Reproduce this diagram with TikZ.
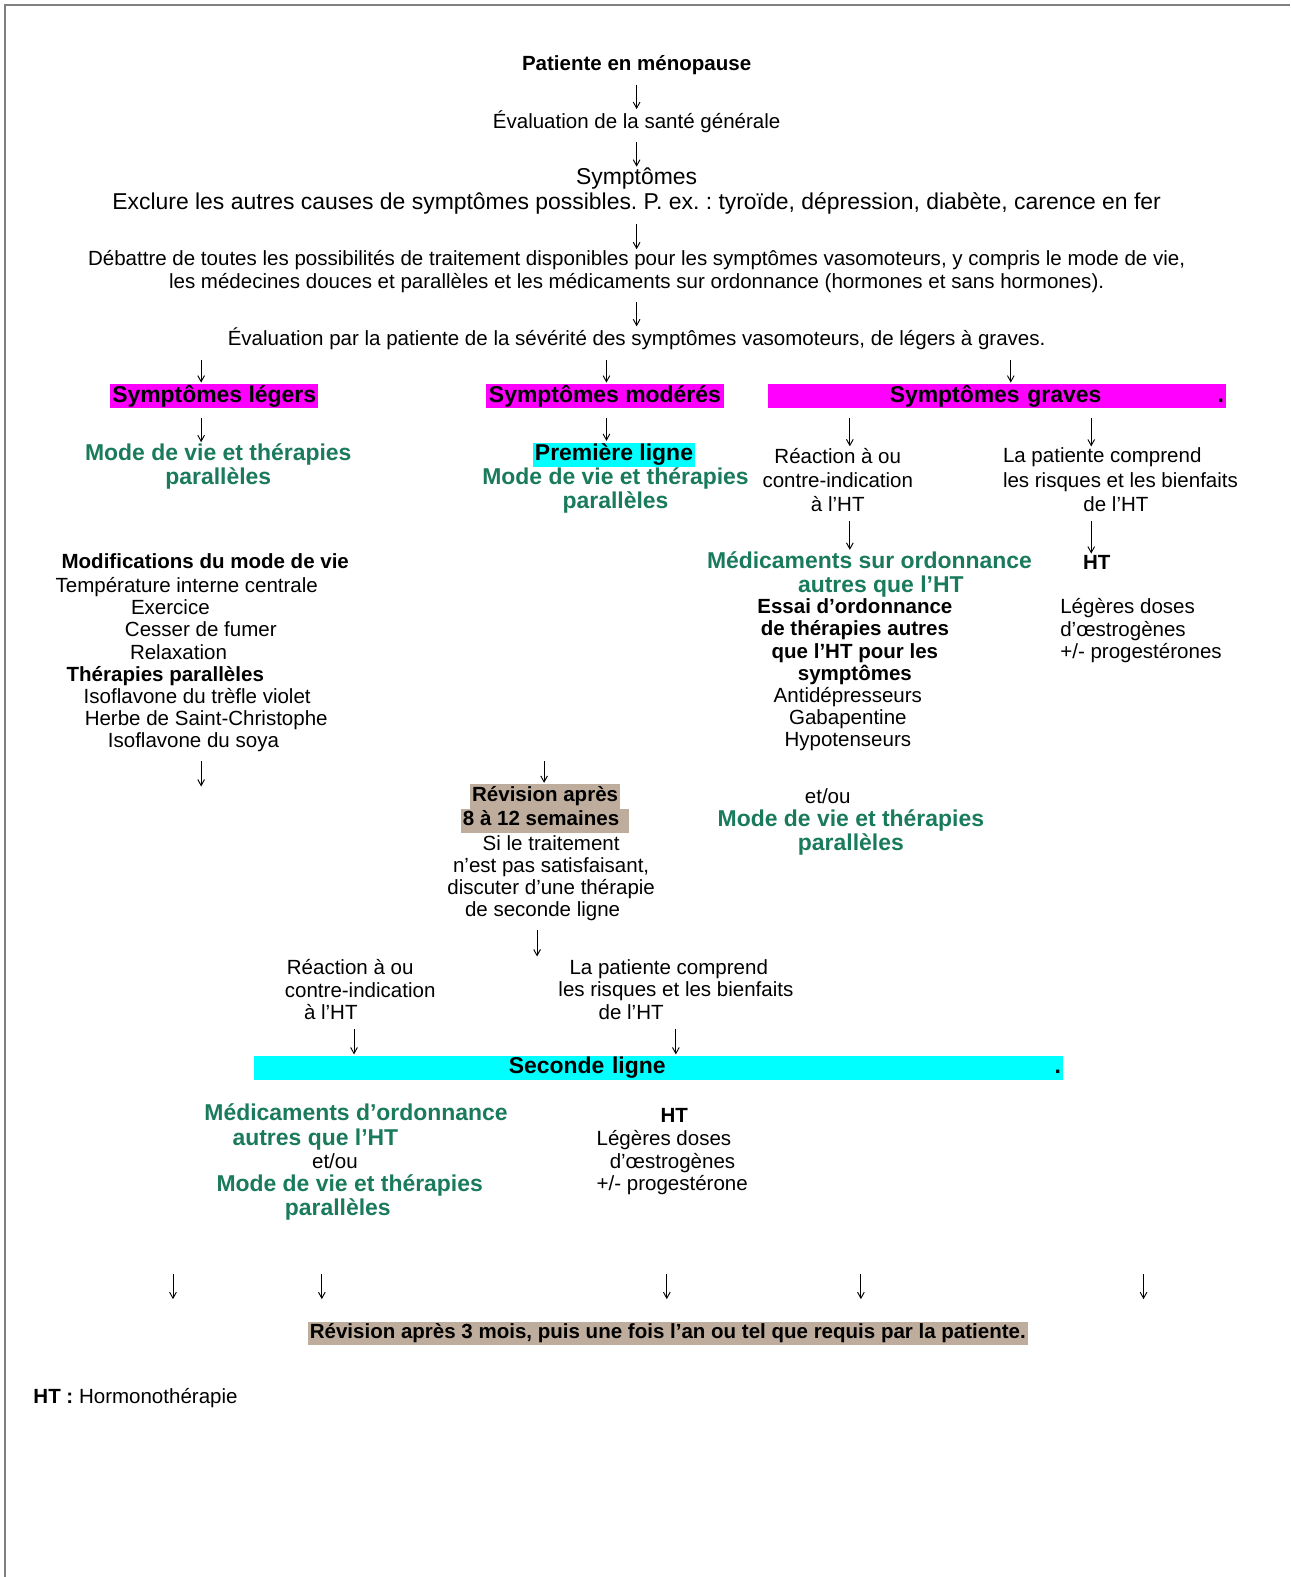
\documentclass[tikz,border=0pt]{standalone}
\usepackage{fontspec}
\setmainfont{Liberation Sans}
\usepackage{tikz}
\usetikzlibrary{arrows.meta, positioning}
\definecolor{GreenText}{HTML}{1A7A5C}
\definecolor{PinkBox}{HTML}{FF00FF}
\definecolor{CyanBox}{HTML}{00FFFF}
\definecolor{TanBox}{HTML}{BEAD9D}
\newcommand{\normsize}{\fontsize{15.3pt}{16.5pt}\selectfont}
\newcommand{\widesize}{\fontsize{15.3pt}{18pt}\selectfont}
\newcommand{\bigsize}{\fontsize{17.1pt}{18pt}\selectfont}
\newcommand{\tanline}[1]{{\setlength{\fboxsep}{0pt}\colorbox{TanBox}{\strut\kern1.5pt #1\kern1.5pt}}}
\frenchspacing

\begin{document}
\begin{tikzpicture}[x=0.75pt, y=-0.75pt,
    every node/.style={inner sep=0pt, yshift=-1.5pt},
    txt/.style={font=\normsize, align=center},
    widetxt/.style={font=\widesize, align=center},
    boldtxt/.style={font=\normsize\bfseries, align=center},
    bigtxt/.style={font=\bigsize, align=center},
    greentxt/.style={font=\bigsize\bfseries, text=GreenText, align=center},
    pinkbox/.style={fill=PinkBox, font=\bigsize\bfseries, inner xsep=1.5pt, minimum height=18pt},
    cyanbox/.style={fill=CyanBox, font=\bigsize\bfseries, inner xsep=1.5pt, minimum height=18pt},
    tanbox/.style={fill=TanBox, font=\normsize\bfseries, inner xsep=1.5pt, minimum height=17.25pt},
    flow/.style={-{Straight Barb[length=4.5pt,width=5pt]}, line width=0.7pt, shorten <=7pt, shorten >=1pt}]

    \useasboundingbox (0,0) rectangle (1283,1568);
    \draw[gray, line width=1.1pt] (5,1568) -- (5,5) -- (1283,5);

    \node (Patient) [boldtxt] at (633,63) {Patiente en ménopause};
    \node (HealthEval) [txt] at (633,119) {Évaluation de la santé générale};
    \node (Symptoms) [bigtxt] at (633,188) {Symptômes\\Exclure les autres causes de symptômes possibles. P. ex. : tyroïde, dépression, diabète, carence en fer};
    \node (Discuss) [txt] at (633,268) {Débattre de toutes les possibilités de traitement disponibles pour les symptômes vasomoteurs, y compris le mode de vie,\\les médecines douces et parallèles et les médicaments sur ordonnance (hormones et sans hormones).};
    \node (SeverityEval) [txt] at (633,335) {Évaluation par la patiente de la sévérité des symptômes vasomoteurs, de légers à graves.};

    \node (Mild) [pinkbox, minimum width=153pt] at (213,392) {Symptômes légers};
    \node (Moderate) [pinkbox, minimum width=177.75pt] at (601.5,392) {Symptômes modérés};
    \node (Severe) [pinkbox, text width=338.25pt, align=left] at (991.5,392) {\hspace*{89pt}Symptômes graves\hfill.};

    \node (MildLifestyle) [greentxt] at (217,462) {Mode de vie et thérapies\\parallèles};
    \node (FirstLine) [cyanbox] at (610.5,450) {Première ligne};
    \node (ModLifestyle) [greentxt] at (612,486) {Mode de vie et thérapies\\parallèles};
    \node (SevReaction) [widetxt] at (833,475) {Réaction à ou\\contre-indication\\à l’HT};
    \node (SevUnderstands) [widetxt, align=left, anchor=west] at (997,475) {La patiente comprend\\les risques et les bienfaits\\\hspace*{60pt}de l’HT};

    \node (SevMeds) [greentxt] at (864.5,569) {Médicaments sur ordonnance\\\hspace*{17pt}autres que l’HT};
    \node (SevHT) [boldtxt] at (1090.5,557) {HT};
    \node (SevTrial) [boldtxt] at (850,636) {Essai d’ordonnance\\de thérapies autres\\que l’HT pour les\\symptômes};
    \node (SevDrugs) [txt] at (843,713) {Antidépresseurs\\Gabapentine\\Hypotenseurs};
    \node (SevDoses) [txt, align=left, anchor=west] at (1054,625) {Légères doses\\d’œstrogènes\\+/- progestérones};

    \node (LifestyleList) [txt, align=left, anchor=west] at (55,647) {\hspace*{4.5pt}\textbf{Modifications du mode de vie}\\[1.5pt]Température interne centrale\\\hspace*{56.25pt}Exercice\\\hspace*{51.75pt}Cesser de fumer\\\hspace*{55.5pt}Relaxation\\\hspace*{8.25pt}\textbf{Thérapies parallèles}\\\hspace*{21pt}Isoflavone du trèfle violet\\\hspace*{21.75pt}Herbe de Saint-Christophe\\\hspace*{39pt}Isoflavone du soya};

    \node (Review8) [widetxt] at (542,802) {\tanline{\textbf{Révision après}}\\\tanline{\textbf{8 à 12 semaines}\kern6pt}};
    \node (IfUnsatisfied) [txt] at (548,871) {Si le traitement\\n’est pas satisfaisant,\\discuter d’une thérapie\\de seconde ligne\hspace*{12.75pt}};
    \node (MidEtOu) [txt] at (823,790) {et/ou};
    \node (MidLifestyle) [greentxt] at (846,826) {Mode de vie et thérapies\\parallèles};

    \node (MidReaction) [txt, align=left, anchor=west] at (283,982) {\hspace*{1.5pt}Réaction à ou\\contre-indication\\\hspace*{14.25pt}à l’HT};
    \node (MidUnderstands) [txt, align=left, anchor=west] at (555,982) {\hspace*{8.25pt}La patiente comprend\\les risques et les bienfaits\\\hspace*{30pt}de l’HT};
    \node (SecondLine) [cyanbox, text width=600pt, align=left] at (655,1060) {\hspace*{188.25pt}Seconde ligne\hfill.};

    \node (LowMeds) [greentxt, align=left, anchor=west] at (203,1118.5) {Médicaments d’ordonnance\\\hspace*{21pt}autres que l’HT};
    \node (LowEtOu) [txt] at (333,1153) {et/ou};
    \node (LowLifestyle) [greentxt, align=left, anchor=west] at (215,1189) {Mode de vie et thérapies\\\hspace*{51pt}parallèles};
    \node (LowHT) [boldtxt] at (670.5,1107) {HT};
    \node (LowDoses) [txt, align=left, anchor=west] at (593,1154) {Légères doses\\\hspace*{9.75pt}d’œstrogènes\\+/- progestérone};

    \node (FinalReview) [tanbox] at (664,1323.5) {Révision après 3 mois, puis une fois l’an ou tel que requis par la patiente.};
    \node (Legend) [txt, anchor=west] at (33,1388) {\textbf{HT :} Hormonothérapie};

    \coordinate (ColL) at (200,0);
    \coordinate (ColM) at (603,0);
    \coordinate (ColR) at (1005,0);
    \coordinate (ColRa) at (845,0);
    \coordinate (ColRb) at (1085,0);
    \coordinate (ColML) at (352,0);
    \coordinate (ColMR) at (672,0);
    \coordinate (LeftOut) at (200,780);
    \coordinate (ReviewIn) at (541,755);
    \coordinate (MidOut) at (534,949);

    \draw[flow] (Patient) -- (HealthEval);
    \draw[flow] (HealthEval) -- (Symptoms);
    \draw[flow] (Symptoms) -- (Discuss);
    \draw[flow] (Discuss) -- (SeverityEval);
    \draw[flow] (SeverityEval.south -| ColL) -- (ColL |- Mild.north);
    \draw[flow] (SeverityEval.south -| ColM) -- (ColM |- Moderate.north);
    \draw[flow] (SeverityEval.south -| ColR) -- (ColR |- Severe.north);
    \draw[flow] (Mild.south -| ColL) -- (ColL |- MildLifestyle.north);
    \draw[flow] (Moderate.south -| ColM) -- (ColM |- FirstLine.north);
    \draw[flow] (Severe.south -| ColRa) -- (ColRa |- SevReaction.north);
    \draw[flow] (Severe.south -| ColRb) -- (ColRb |- SevUnderstands.north);
    \draw[flow] (SevReaction.south -| ColRa) -- (ColRa |- SevMeds.north);
    \draw[flow] (SevUnderstands.south -| ColRb) -- (ColRb |- SevHT.north);
    \draw[flow, shorten >=0pt] (LifestyleList.south -| LeftOut) -- (LeftOut);
    \draw[flow, shorten <=0pt] (ReviewIn) -- (ReviewIn |- Review8.north);
    \draw[flow, shorten >=0pt] (IfUnsatisfied.south -| MidOut) -- (MidOut);
    \draw[flow] (MidReaction.south -| ColML) -- (ColML |- SecondLine.north);
    \draw[flow] (MidUnderstands.south -| ColMR) -- (ColMR |- SecondLine.north);

    \foreach \x [count=\i] in {172,320,663,856,1137}
        \coordinate (Down\i) at (\x,1265);
    \foreach \i in {1,...,5}
        \draw[flow, shorten <=0pt, shorten >=16.5pt] (Down\i) -- (Down\i |- FinalReview.north);

\end{tikzpicture}
\end{document}
